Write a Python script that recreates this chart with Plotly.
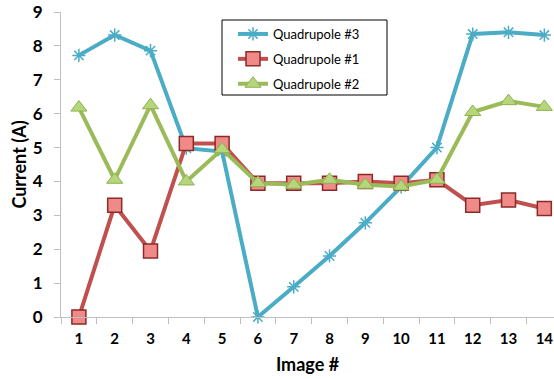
import plotly.graph_objects as go

images = list(range(1, 15))
quad3 = [7.72, 8.32, 7.86, 4.98, 4.88, 0.0, 0.89, 1.8, 2.78, 3.84, 5.0, 8.35, 8.4, 8.32]
quad1 = [0.0, 3.3, 1.95, 5.12, 5.12, 3.95, 3.95, 3.95, 4.0, 3.95, 4.05, 3.3, 3.45, 3.2]
quad2 = [6.18, 4.05, 6.25, 4.0, 4.95, 3.95, 3.9, 4.05, 3.9, 3.85, 4.05, 6.05, 6.37, 6.2]
tick_labels = [str(i) for i in images]

fig = go.Figure()
fig.add_trace(go.Scatter(
    x=images, y=quad3, name="Quadrupole #3", mode="lines+markers", legendgroup="q3",
    line=dict(color="#4bacc6", width=4),
    marker=dict(symbol="asterisk-open", size=11, color="#4bacc6",
                line=dict(color="#4bacc6", width=1.5)),
    cliponaxis=False,
))
fig.add_trace(go.Scatter(
    x=images, y=quad1, name="Quadrupole #1", mode="lines+markers", legendgroup="q1",
    line=dict(color="#c0504d", width=4),
    marker=dict(symbol="square", size=14, color="#f08a88",
                line=dict(color="#8c2a28", width=1.5)),
    cliponaxis=False,
))
fig.add_trace(go.Scatter(
    x=images, y=quad2, name="Quadrupole #2", mode="lines+markers", legendgroup="q2",
    line=dict(color="#9bbb59", width=4),
    marker=dict(symbol="triangle-up", size=14, color="#b5d67a",
                line=dict(color="#8fb04e", width=1)),
    cliponaxis=False,
))

# legend frame drawn as a rectangle (pixel-based paper coordinates)
pw, ph = 493, 305
def px_x(v):
    return (v - 61) / pw
def px_y(v):
    return 1 - (v - 12) / ph

fig.add_shape(type="rect", xref="paper", yref="paper",
              x0=px_x(222), x1=px_x(387), y0=px_y(95), y1=px_y(20),
              line=dict(color="black", width=1), fillcolor="rgba(0,0,0,0)", layer="above")

fig.update_layout(
    width=554, height=379,
    margin=dict(l=61, r=0, t=12, b=62),
    paper_bgcolor="white", plot_bgcolor="white",
    font=dict(family="Lato, sans-serif", color="black"),
    showlegend=True,
    legend=dict(
        x=px_x(233), y=px_y(19), xref="paper", yref="paper",
        xanchor="left", yanchor="top",
        borderwidth=0, bgcolor="rgba(0,0,0,0)",
        font=dict(family="Lato, sans-serif", size=13, color="black"),
        tracegroupgap=5, itemwidth=30,
    ),
)

fig.update_xaxes(
    range=[0.5, 14.27], tickmode="array", tickvals=images, ticktext=tick_labels,
    ticks="", showline=True, linecolor="#bfbfbf", linewidth=1,
    showgrid=False, zeroline=False,
    tickfont=dict(family="Lato, sans-serif", size=15, color="black", weight="bold"),
    ticklabelstandoff=8,
    minor=dict(tickmode="array", tickvals=[i + 0.5 for i in range(0, 15)],
               ticks="outside", ticklen=6, tickcolor="#bfbfbf", showgrid=False),
    title=dict(text="<b>Image #</b>", font=dict(family="Lato, sans-serif", size=18), standoff=12),
)
fig.update_yaxes(
    range=[0, 9], dtick=1, ticks="outside", ticklen=6, tickcolor="#bfbfbf",
    showline=True, linecolor="#bfbfbf", linewidth=1,
    showgrid=False, zeroline=False,
    tickfont=dict(family="Lato, sans-serif", size=17, color="black", weight="bold"),
    ticklabelstandoff=8,
    title=dict(text="<b>Current (A)</b>", font=dict(family="Lato, sans-serif", size=18), standoff=1),
)

fig.write_html("out.html")
